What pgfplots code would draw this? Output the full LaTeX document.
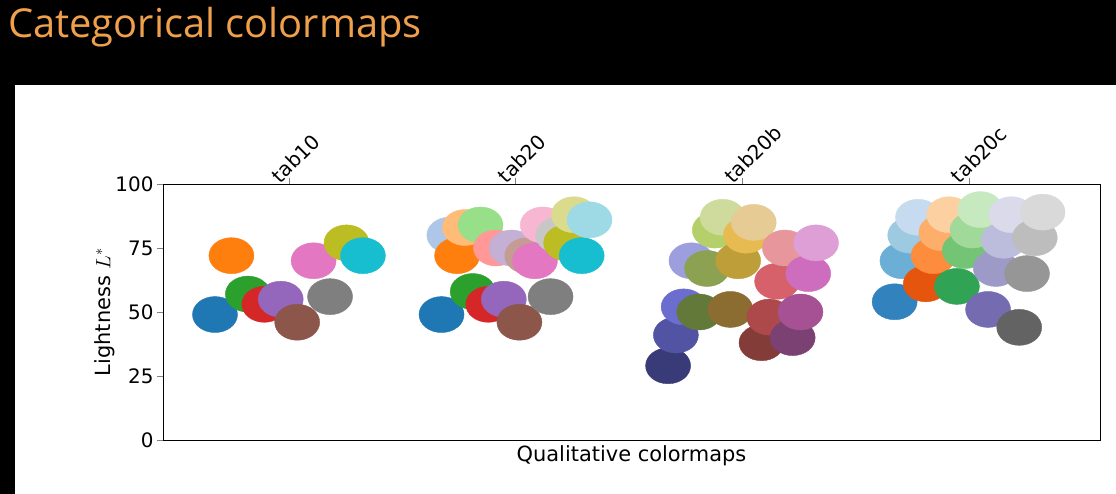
\documentclass[border=0pt]{standalone}
\usepackage{pgfplots}
\pgfplotsset{compat=1.18}
\usepackage{fontspec}
\setmainfont{DejaVu Sans}
\newfontfamily\titlefont{Open Sans}
\definecolor{titleor}{HTML}{F0A04B}
\newcommand\dc[1]{\definecolor{c#1}{HTML}{#1}}
\dc{1f77b4}\dc{ff7f0e}\dc{2ca02c}\dc{d62728}\dc{9467bd}\dc{8c564b}\dc{e377c2}\dc{7f7f7f}\dc{bcbd22}\dc{17becf}
\dc{aec7e8}\dc{ffbb78}\dc{98df8a}\dc{ff9896}\dc{c5b0d5}\dc{c49c94}\dc{f7b6d2}\dc{c7c7c7}\dc{dbdb8d}\dc{9edae5}
\dc{393b79}\dc{5254a3}\dc{6b6ecf}\dc{9c9ede}\dc{637939}\dc{8ca252}\dc{b5cf6b}\dc{cedb9c}\dc{8c6d31}\dc{bd9e39}\dc{e7ba52}\dc{e7cb94}\dc{843c39}\dc{ad494a}\dc{d6616b}\dc{e7969c}\dc{7b4173}\dc{a55194}\dc{ce6dbd}\dc{de9ed6}
\dc{3182bd}\dc{6baed6}\dc{9ecae1}\dc{c6dbef}\dc{e6550d}\dc{fd8d3c}\dc{fdae6b}\dc{fdd0a2}\dc{31a354}\dc{74c476}\dc{a1d99b}\dc{c7e9c0}\dc{756bb1}\dc{9e9ac8}\dc{bcbddc}\dc{dadaeb}\dc{636363}\dc{969696}\dc{bdbdbd}\dc{d9d9d9}
\newcommand\pt[3]{\addplot[only marks,mark=*,mark size=18bp,color=c#3,mark options={draw=c#3,fill=c#3,xscale=1.25}] coordinates {(#1,#2)};}
\begin{document}
\begin{tikzpicture}
\useasboundingbox (0bp,0bp) rectangle (1116bp,494bp);
\fill[black] (0bp,0bp) rectangle (1116bp,494bp);
\fill[white] (15bp,0bp) rectangle (1116bp,409bp);
\node[anchor=base west,text=titleor,font=\titlefont\fontsize{40}{44}\selectfont,inner sep=0pt] at (8bp,456bp) {Categorical colormaps};
\begin{axis}[at={(163bp,54bp)},anchor=south west,scale only axis,width=937bp,height=256bp,
 xmin=-0.556,xmax=3.58,ymin=0,ymax=100,
 xtick={0,1,2,3},xticklabels={tab10,tab20,tab20b,tab20c},
 xtick pos=top,xticklabel pos=top,ytick pos=left,ytick={0,25,50,75,100},
 tick align=outside,major tick length=6bp,
 xticklabel style={rotate=45,anchor=south west,xshift=-14bp,yshift=-2bp},
 ticklabel style={font=\fontsize{20}{24}\selectfont},
 /pgf/number format/assume math mode=true,
 xlabel={Qualitative colormaps},ylabel={Lightness $L^*$},
 label style={font=\fontsize{21}{25}\selectfont},
 xlabel style={at={(axis description cs:0.5,0)},anchor=north,yshift=-2bp},
 ylabel style={yshift=-6bp},
 clip=false]
\pt{-0.3265}{49}{1f77b4}\pt{-0.2540}{72}{ff7f0e}\pt{-0.1814}{57}{2ca02c}\pt{-0.1088}{53}{d62728}\pt{-0.0363}{55}{9467bd}
\pt{0.0363}{46}{8c564b}\pt{0.1088}{70}{e377c2}\pt{0.1814}{56}{7f7f7f}\pt{0.2540}{77}{bcbd22}\pt{0.3265}{72}{17becf}
\pt{0.6735}{49}{1f77b4}\pt{0.7079}{80}{aec7e8}\pt{0.7422}{72}{ff7f0e}\pt{0.7766}{83}{ffbb78}\pt{0.8110}{58}{2ca02c}
\pt{0.8453}{84}{98df8a}\pt{0.8797}{53}{d62728}\pt{0.9141}{75}{ff9896}\pt{0.9484}{55}{9467bd}\pt{0.9828}{75}{c5b0d5}
\pt{1.0172}{46}{8c564b}\pt{1.0516}{72}{c49c94}\pt{1.0859}{70}{e377c2}\pt{1.1203}{84}{f7b6d2}\pt{1.1547}{56}{7f7f7f}
\pt{1.1890}{80}{c7c7c7}\pt{1.2234}{77}{bcbd22}\pt{1.2578}{88}{dbdb8d}\pt{1.2921}{72}{17becf}\pt{1.3265}{86}{9edae5}
\pt{1.6735}{29}{393b79}\pt{1.7079}{41}{5254a3}\pt{1.7422}{52}{6b6ecf}\pt{1.7766}{70}{9c9ede}\pt{1.8110}{50}{637939}
\pt{1.8453}{67}{8ca252}\pt{1.8797}{82}{b5cf6b}\pt{1.9141}{87}{cedb9c}\pt{1.9484}{51}{8c6d31}\pt{1.9828}{70}{bd9e39}
\pt{2.0172}{80}{e7ba52}\pt{2.0516}{85}{e7cb94}\pt{2.0859}{38}{843c39}\pt{2.1203}{48}{ad494a}\pt{2.1547}{62}{d6616b}
\pt{2.1890}{75}{e7969c}\pt{2.2234}{40}{7b4173}\pt{2.2578}{50}{a55194}\pt{2.2921}{65}{ce6dbd}\pt{2.3265}{77}{de9ed6}
\pt{2.6735}{54}{3182bd}\pt{2.7079}{70}{6baed6}\pt{2.7422}{80}{9ecae1}\pt{2.7766}{87}{c6dbef}\pt{2.8110}{61}{e6550d}
\pt{2.8453}{72}{fd8d3c}\pt{2.8797}{81}{fdae6b}\pt{2.9141}{88}{fdd0a2}\pt{2.9484}{60}{31a354}\pt{2.9828}{74}{74c476}
\pt{3.0172}{82}{a1d99b}\pt{3.0516}{90}{c7e9c0}\pt{3.0859}{51}{756bb1}\pt{3.1203}{67}{9e9ac8}\pt{3.1547}{78}{bcbddc}
\pt{3.1890}{88}{dadaeb}\pt{3.2234}{44}{636363}\pt{3.2578}{65}{969696}\pt{3.2921}{79}{bdbdbd}\pt{3.3265}{89}{d9d9d9}
\end{axis}
\end{tikzpicture}
\end{document}
